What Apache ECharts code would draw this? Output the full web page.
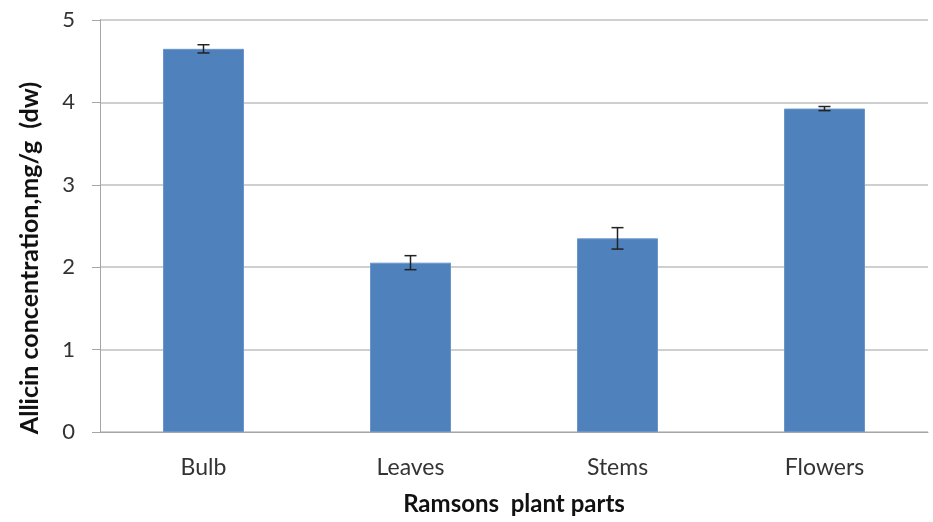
<!DOCTYPE html>
<html><head><meta charset="utf-8">
<script src="https://cdn.jsdelivr.net/npm/echarts@6/dist/echarts.min.js"></script>
<style>html,body{margin:0;padding:0;background:#fff}#c{width:933px;height:522px}</style>
</head><body><div id="c"></div>
<script>
const categories = ['Bulb', 'Leaves', 'Stems', 'Flowers'];
const values = [4.65, 2.055, 2.35, 3.925];
const errors = [0.05, 0.085, 0.13, 0.025];
const yTicks = [0, 1, 2, 3, 4, 5];

const chart = echarts.init(document.getElementById('c'));
const errData = categories.map((c, i) => [i, values[i] - errors[i], values[i] + errors[i]]);
chart.setOption({
  animation: false,
  grid: { left: 100, right: 5, top: 20, bottom: 90, containLabel: false, outerBoundsMode: 'none' },
  xAxis: {
    type: 'category', data: categories,
    name: 'Ramsons  plant parts', nameLocation: 'middle', nameGap: 60,
    nameTextStyle: { fontFamily: 'Lato', fontWeight: 'bold', fontSize: 24, color: '#111' },
    axisLine: { lineStyle: { color: '#a6a6a6', width: 1 } },
    axisTick: { show: false },
    axisLabel: { fontFamily: 'Lato', fontSize: 23, color: '#333', margin: 24 }
  },
  yAxis: {
    type: 'value', min: yTicks[0], max: yTicks[yTicks.length - 1], interval: 1,
    name: 'Allicin concentration,mg/g  (dw)', nameLocation: 'middle', nameGap: 58,
    nameTextStyle: { fontFamily: 'Lato', fontWeight: 'bold', fontSize: 25, color: '#111', padding: [0, 64, 0, 0] },
    axisLine: { show: true, lineStyle: { color: '#a6a6a6', width: 1 } },
    axisTick: { show: true, length: 8, lineStyle: { color: '#a6a6a6' } },
    splitLine: { lineStyle: { color: '#bfbfbf', width: 1.5 } },
    axisLabel: { fontFamily: 'Lato', fontSize: 22, color: '#333', margin: 25 }
  },
  series: [
    {
      type: 'bar', data: values, barWidth: 81,
      itemStyle: { color: '#4f81bd', borderColor: '#6a95c8', borderWidth: 1 }
    },
    {
      type: 'custom', data: errData, z: 10,
      renderItem: function (params, api) {
        const x = api.value(0);
        const lo = api.coord([x, api.value(1)]);
        const hi = api.coord([x, api.value(2)]);
        const hw = 6;
        const st = { stroke: '#222', lineWidth: 1.5 };
        return { type: 'group', children: [
          { type: 'line', shape: { x1: lo[0], y1: lo[1], x2: hi[0], y2: hi[1] }, style: st },
          { type: 'line', shape: { x1: lo[0] - hw, y1: lo[1], x2: lo[0] + hw, y2: lo[1] }, style: st },
          { type: 'line', shape: { x1: hi[0] - hw, y1: hi[1], x2: hi[0] + hw, y2: hi[1] }, style: st }
        ]};
      }
    }
  ]
});
</script></body></html>
